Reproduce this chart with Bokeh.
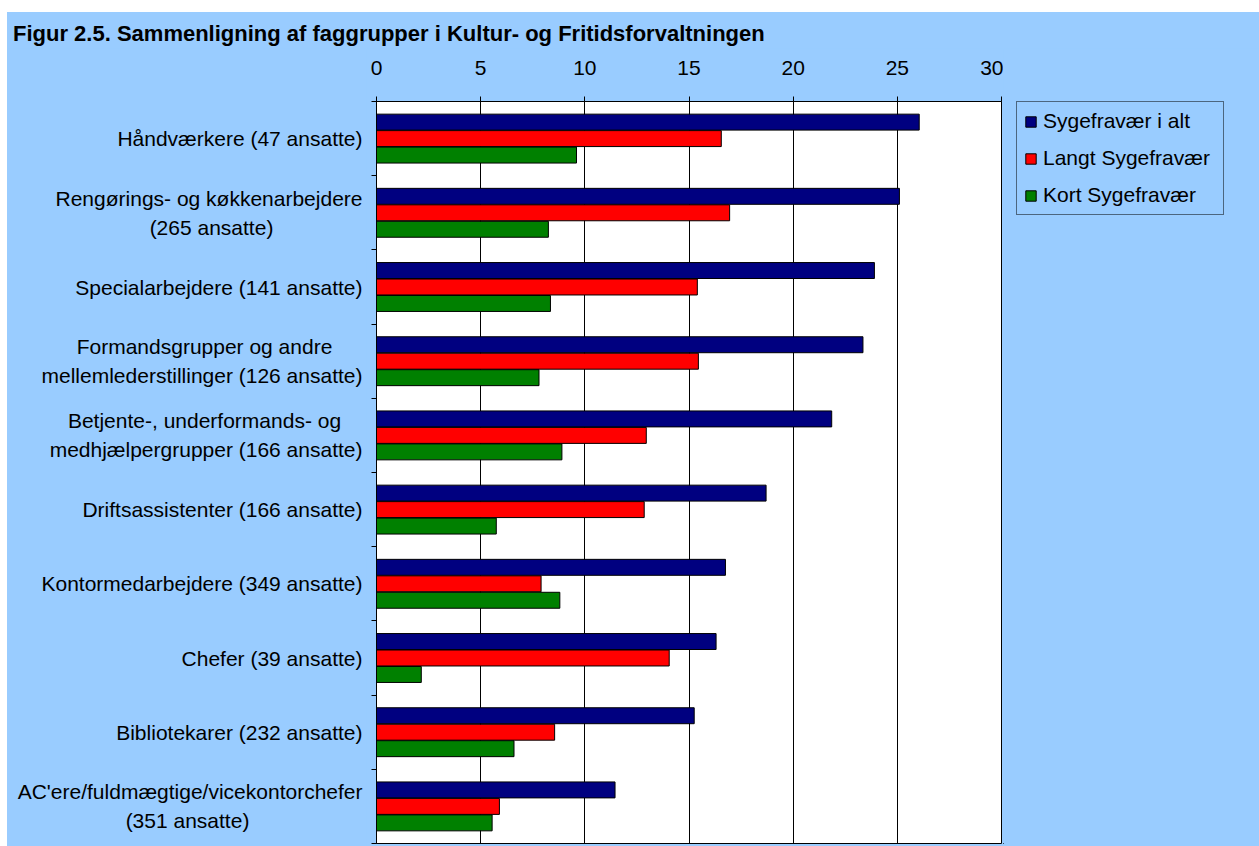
from bokeh.plotting import figure
from bokeh.models import (Range1d, FixedTicker, Legend, LegendItem,
                          ColumnDataSource, Spacer)
from bokeh.layouts import column, row
from bokeh.core.properties import value
from bokeh.embed import file_html
from bokeh.resources import INLINE

# ---- data ----
group_lines = [
    ["Håndværkere (47 ansatte)"],
    ["Rengørings- og køkkenarbejdere", "(265 ansatte)"],
    ["Specialarbejdere (141 ansatte)"],
    ["Formandsgrupper og andre", "mellemlederstillinger (126 ansatte)"],
    ["Betjente-, underformands- og", "medhjælpergrupper (166 ansatte)"],
    ["Driftsassistenter (166 ansatte)"],
    ["Kontormedarbejdere (349 ansatte)"],
    ["Chefer (39 ansatte)"],
    ["Bibliotekarer (232 ansatte)"],
    ["AC'ere/fuldmægtige/vicekontorchefer", "(351 ansatte)"],
]
total = [26.05, 25.1, 23.9, 23.35, 21.85, 18.7, 16.75, 16.3, 15.25, 11.45]
long_absence = [16.55, 16.95, 15.4, 15.45, 12.95, 12.85, 7.9, 14.05, 8.55, 5.9]
short_absence = [9.6, 8.25, 8.35, 7.8, 8.9, 5.75, 8.8, 2.15, 6.6, 5.55]
series_names = ["Sygefravær i alt", "Langt Sygefravær", "Kort Sygefravær"]
series_colors = ["#000080", "#FF0000", "#008000"]
x_ticks = [0, 5, 10, 15, 20, 25, 30]
title_text = "Figur 2.5. Sammenligning af faggrupper i Kultur- og Fritidsforvaltningen"

FONT = "Liberation Sans"
BG = "#99CCFF"
LABEL_SIZE = "21px"

n = len(group_lines)
centers = [i + 0.5 for i in range(n)]
y_range = Range1d(n, 0)

TOTAL_W = 1252
HEAD_H = 36
BODY_H = 798
LEFT_W = 359
MAIN_W = 637
LEG_W = TOTAL_W - LEFT_W - MAIN_W
TOP_B = 53
BOT_B = 3


def bare(fig):
    fig.background_fill_color = BG
    fig.border_fill_color = BG
    fig.outline_line_color = None
    fig.grid.grid_line_color = None
    return fig


# ---- title strip ----
head = bare(figure(width=TOTAL_W, height=HEAD_H, output_backend="svg", toolbar_location=None,
                   x_range=Range1d(0, TOTAL_W), y_range=Range1d(HEAD_H, 0),
                   x_axis_location=None, y_axis_location=None,
                   min_border_left=0, min_border_right=0, min_border_top=0, min_border_bottom=0))
head.text(x=[5.5], y=[21], text=[title_text], text_font=value(FONT), text_font_size="22px",
          text_font_style="bold", text_color="black", text_baseline="middle", text_align="left")

# ---- category label panel ----
left = bare(figure(width=LEFT_W, height=BODY_H, output_backend="svg", toolbar_location=None,
                   x_range=Range1d(0, LEFT_W), y_range=y_range,
                   x_axis_location=None, y_axis_location=None,
                   min_border_left=0, min_border_right=0,
                   min_border_top=TOP_B, min_border_bottom=BOT_B))
right_x = 355
short_centers = {1: 204, 3: 197, 4: 197, 9: 180}
rx, ry, rt, cx, cy, ct = [], [], [], [], [], []
for i, lines in enumerate(group_lines):
    if len(lines) == 1:
        rx.append(right_x); ry.append(centers[i]); rt.append(lines[0])
    else:
        for j, line in enumerate(lines):
            yy = centers[i] + (-0.195 if j == 0 else 0.195)
            if len(line) >= len(lines[1 - j]):
                rx.append(right_x); ry.append(yy); rt.append(line)
            else:
                cx.append(short_centers[i]); cy.append(yy); ct.append(line)
left.text(x=rx, y=ry, text=rt, text_align="right", text_baseline="middle",
          text_font=value(FONT), text_font_size=LABEL_SIZE, text_color="black")
left.text(x=cx, y=cy, text=ct, text_align="center", text_baseline="middle",
          text_font=value(FONT), text_font_size=LABEL_SIZE, text_color="black")

# ---- main chart ----
p = figure(width=MAIN_W, height=BODY_H, output_backend="svg", toolbar_location=None,
           x_range=Range1d(0, 30), y_range=y_range,
           x_axis_location="above", min_border_left=10, min_border_right=2,
           min_border_top=TOP_B, min_border_bottom=BOT_B)
p.background_fill_color = "white"
p.border_fill_color = BG
p.outline_line_color = "black"
p.outline_line_width = 1

xa = p.xaxis[0]
xa.ticker = FixedTicker(ticks=x_ticks)
xa.minor_tick_line_color = None
xa.major_tick_out = 5
xa.major_tick_in = 0
xa.major_label_standoff = 22
xa.major_label_text_font = FONT
xa.major_label_text_font_size = LABEL_SIZE
xa.major_label_text_color = "black"
xa.axis_line_color = "black"
xa.major_tick_line_color = "black"

ya = p.yaxis[0]
ya.ticker = FixedTicker(ticks=list(range(n + 1)))
ya.minor_tick_line_color = None
ya.major_tick_out = 5
ya.major_tick_in = 0
ya.major_label_standoff = 0
ya.major_label_text_font_size = "0px"
ya.major_label_text_color = None
ya.axis_line_color = "black"
ya.major_tick_line_color = "black"

p.xgrid.ticker = FixedTicker(ticks=x_ticks[1:-1])
p.xgrid.grid_line_color = "black"
p.xgrid.grid_line_width = 1
p.ygrid.grid_line_color = None

offs = [-0.222, 0.0, 0.222]
for vals, off, col in zip([total, long_absence, short_absence], offs, series_colors):
    src = ColumnDataSource(dict(y=[c + off for c in centers], v=vals))
    p.hbar(y="y", left=0, right="v", height=0.215, source=src,
           fill_color=col, line_color="black", line_width=1)

# ---- legend panel (swatch renderers lie outside this panel's visible range) ----
leg = bare(figure(width=LEG_W, height=BODY_H, output_backend="svg", toolbar_location=None,
                  x_range=Range1d(0, 1), y_range=Range1d(0, 1),
                  x_axis_location=None, y_axis_location=None,
                  min_border_left=0, min_border_right=0, min_border_top=0, min_border_bottom=0))
leg_renderers = []
for col in series_colors:
    leg_renderers.append(leg.hbar(y=[-5], left=[-5], right=[-4], height=0.2,
                                  fill_color=col, line_color="black", line_width=1))
legend = Legend(items=[LegendItem(label=nm, renderers=[r], index=0)
                       for nm, r in zip(series_names, leg_renderers)],
                location=(13, 628), orientation="vertical",
                background_fill_color=BG, background_fill_alpha=1,
                border_line_color="black", border_line_width=1,
                label_text_font=FONT, label_text_font_size=LABEL_SIZE, label_text_color="black",
                glyph_width=13, glyph_height=13, label_standoff=6, label_width=173,
                padding=7, spacing=13, margin=0)
leg.add_layout(legend, "center")

body = column(head, row(left, p, leg, styles={"background-color": BG}),
              styles={"background-color": BG})
layout = column(Spacer(width=1259, height=12),
                row(Spacer(width=7, height=HEAD_H + BODY_H), body))
open("out.html", "w").write(file_html(layout, INLINE))
